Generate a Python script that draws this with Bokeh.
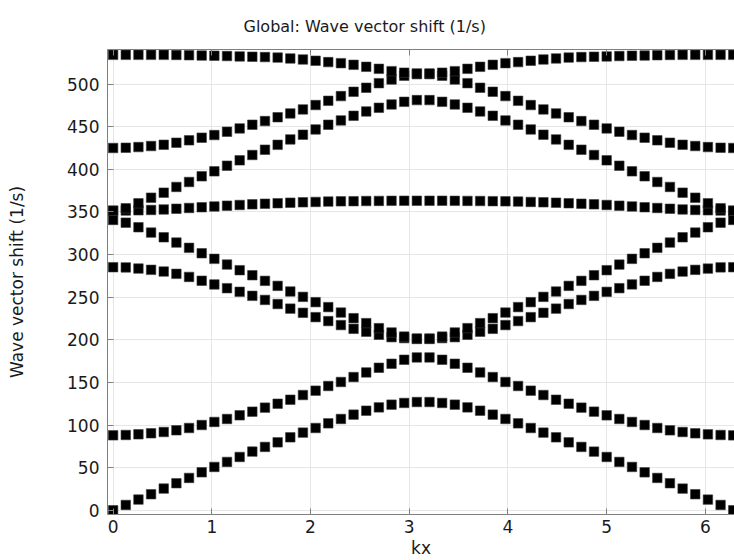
from bokeh.plotting import figure
from bokeh.models import Range1d, LinearAxis, FixedTicker
from bokeh.embed import file_html
from bokeh.resources import INLINE

title_text = "Global: Wave vector shift (1/s)"
x_label = "kx"
y_label = "Wave vector shift (1/s)"
x_ticks = [0, 1, 2, 3, 4, 5, 6]
y_ticks = [0, 50, 100, 150, 200, 250, 300, 350, 400, 450, 500]

kx = [0.0, 0.1282, 0.2565, 0.3847, 0.5129, 0.6411, 0.7694, 0.8976, 1.0258, 1.1541,
      1.2823, 1.4105, 1.5387, 1.6670, 1.7952, 1.9234, 2.0517, 2.1799, 2.3081, 2.4363,
      2.5646, 2.6928, 2.8210, 2.9493, 3.0775, 3.2057, 3.3339, 3.4622, 3.5904, 3.7186,
      3.8468, 3.9751, 4.1033, 4.2315, 4.3598, 4.4880, 4.6162, 4.7444, 4.8727, 5.0009,
      5.1291, 5.2574, 5.3856, 5.5138, 5.6420, 5.7703, 5.8985, 6.0267, 6.1550, 6.2832]

band1 = [0.0, 6.2, 12.5, 18.8, 25.4, 31.7, 37.9, 44.5, 50.8, 56.7, 62.5, 68.8, 74.3, 79.7,
         85.6, 91.1, 96.5, 102.0, 107.1, 112.2, 116.8, 120.7, 123.9, 125.9, 127.0,
         127.0, 125.9, 123.9, 120.7, 116.8, 112.2, 107.1, 102.0, 96.5, 91.1, 85.6,
         79.7, 74.3, 68.8, 62.5, 56.7, 50.8, 44.5, 37.9, 31.7, 25.4, 18.8, 12.5, 6.2, 0.0]
band2 = [87.9, 88.3, 89.1, 90.3, 91.8, 93.8, 96.5, 100.0, 103.6, 107.1, 111.4, 115.7, 120.4,
         125.0, 129.7, 135.2, 140.3, 145.8, 150.5, 156.3, 161.7, 167.2, 171.9, 176.6, 179.3,
         179.3, 176.6, 171.9, 167.2, 161.7, 156.3, 150.5, 145.8, 140.3, 135.2, 129.7,
         125.0, 120.4, 115.7, 111.4, 107.1, 103.6, 100.0, 96.5, 93.8, 91.8, 90.3, 89.1, 88.3, 87.9]
band3 = [285.2, 285.0, 283.6, 282.1, 280.1, 277.4, 273.8, 269.3, 265.0, 260.6, 256.3, 251.6,
         246.8, 242.0, 236.6, 231.7, 226.6, 222.0, 217.3, 212.9, 209.5, 205.9, 203.1, 202.0, 201.0,
         201.0, 202.0, 203.1, 205.9, 209.5, 212.9, 217.3, 222.0, 226.6, 231.7, 236.6, 242.0,
         246.8, 251.6, 256.3, 260.6, 265.0, 269.3, 273.8, 277.4, 280.1, 282.1, 283.6, 285.0, 285.2]
band4 = [340.7, 337.5, 332.1, 325.8, 320.3, 314.1, 307.9, 301.6, 295.0, 288.3, 281.7, 275.8,
         269.2, 263.3, 256.7, 250.4, 244.2, 238.4, 232.0, 225.4, 219.6, 213.7, 208.6, 203.8, 201.5,
         201.5, 203.8, 208.6, 213.7, 219.6, 225.4, 232.0, 238.4, 244.2, 250.4, 256.7, 263.3,
         269.2, 275.8, 281.7, 288.3, 295.0, 301.6, 307.9, 314.1, 320.3, 325.8, 332.1, 337.5, 340.7]
band5 = [351.6, 351.7, 352.0, 352.4, 353.0, 353.8, 354.7, 355.6, 356.5, 357.4, 358.2, 359.0,
         359.7, 360.3, 360.9, 361.4, 361.8, 362.2, 362.5, 362.7, 362.9, 363.0, 363.1, 363.2, 363.2,
         363.2, 363.2, 363.1, 363.0, 362.9, 362.7, 362.5, 362.2, 361.8, 361.4, 360.9, 360.3,
         359.7, 359.0, 358.2, 357.4, 356.5, 355.6, 354.7, 353.8, 353.0, 352.4, 352.0, 351.7, 351.6]
band6 = [351.6, 354.4, 360.2, 366.8, 372.7, 379.4, 385.2, 391.9, 397.7, 404.3, 410.6, 416.9,
         423.1, 428.8, 435.2, 440.7, 446.9, 452.4, 457.5, 462.9, 468.0, 472.3, 476.2, 479.3, 481.3,
         481.3, 479.3, 476.2, 472.3, 468.0, 462.9, 457.5, 452.4, 446.9, 440.7, 435.2, 428.8,
         423.1, 416.9, 410.6, 404.3, 397.7, 391.9, 385.2, 379.4, 372.7, 366.8, 360.2, 354.4, 351.6]
band7 = [425.1, 425.4, 426.2, 427.4, 428.9, 431.3, 434.1, 437.2, 440.3, 444.2, 448.1, 452.4,
         456.7, 461.2, 465.7, 470.4, 475.5, 480.5, 486.0, 491.1, 495.8, 501.2, 505.5, 510.0, 511.8,
         511.8, 510.0, 505.5, 501.2, 495.8, 491.1, 486.0, 480.5, 475.5, 470.4, 465.7, 461.2,
         456.7, 452.4, 448.1, 444.2, 440.3, 437.2, 434.1, 431.3, 428.9, 427.4, 426.2, 425.4, 425.1]
band8 = [534.4, 534.4, 534.4, 534.4, 534.4, 534.3, 534.0, 533.6, 533.4, 533.0, 532.6, 532.2,
         531.8, 531.2, 530.2, 529.0, 527.5, 525.9, 524.7, 522.7, 520.4, 518.0, 515.3, 513.5, 512.6,
         512.6, 513.5, 515.3, 518.0, 520.4, 522.7, 524.7, 525.9, 527.5, 529.0, 530.2, 531.2,
         531.8, 532.2, 532.6, 533.0, 533.4, 533.6, 534.0, 534.3, 534.4, 534.4, 534.4, 534.4, 534.4]

bands = [band1, band2, band3, band4, band5, band6, band7, band8]

FONT = "DejaVu Sans"
TXT = "#1a1a1a"
AX = "#808080"

p = figure(width=734, height=560, output_backend="svg", toolbar_location=None,
           x_range=Range1d(-0.057, 6.296), y_range=Range1d(-5.0, 540.7),
           min_border_left=107, min_border_right=0, min_border_top=49,
           min_border_bottom=45)

p.title.text = title_text
p.title.text_font = FONT
p.title.text_font_size = "16px"
p.title.text_font_style = "normal"
p.title.text_color = TXT
p.title.align = "left"
p.title.offset = 136
p.title.standoff = 27

p.outline_line_color = None
p.background_fill_color = "white"
p.border_fill_color = "white"

for b in bands:
    p.scatter(kx, b, marker="square", size=9.5, fill_color="black",
              line_color="#3a3a3a", line_width=0.6)

for ax, ticks in ((p.xaxis[0], x_ticks), (p.yaxis[0], y_ticks)):
    ax.ticker = FixedTicker(ticks=ticks)
    ax.major_tick_in = 6
    ax.major_tick_out = 0
    ax.minor_tick_line_color = None
    ax.axis_line_color = AX
    ax.major_tick_line_color = AX
    ax.major_label_text_font = FONT
    ax.major_label_text_font_size = "17px"
    ax.major_label_text_color = TXT
    ax.axis_label_text_font = FONT
    ax.axis_label_text_font_size = "17px"
    ax.axis_label_text_font_style = "normal"
    ax.axis_label_text_color = TXT

p.xaxis.axis_label = x_label
p.yaxis.axis_label = y_label
p.xaxis.major_label_standoff = 5
p.xaxis.axis_label_standoff = 2
p.yaxis.major_label_standoff = 8
p.yaxis.axis_label_standoff = 37

top = LinearAxis(ticker=FixedTicker(ticks=x_ticks), major_tick_in=6, major_tick_out=0,
                 minor_tick_line_color=None, axis_line_color=AX,
                 major_tick_line_color=AX, major_label_text_color=None,
                 major_label_text_font_size="1px", major_label_standoff=0)
p.add_layout(top, "above")

p.xgrid.ticker = FixedTicker(ticks=x_ticks)
p.ygrid.ticker = FixedTicker(ticks=y_ticks)
p.grid.grid_line_color = "#e6e6e6"
p.grid.grid_line_width = 1

open("out.html", "w").write(file_html(p, INLINE))
